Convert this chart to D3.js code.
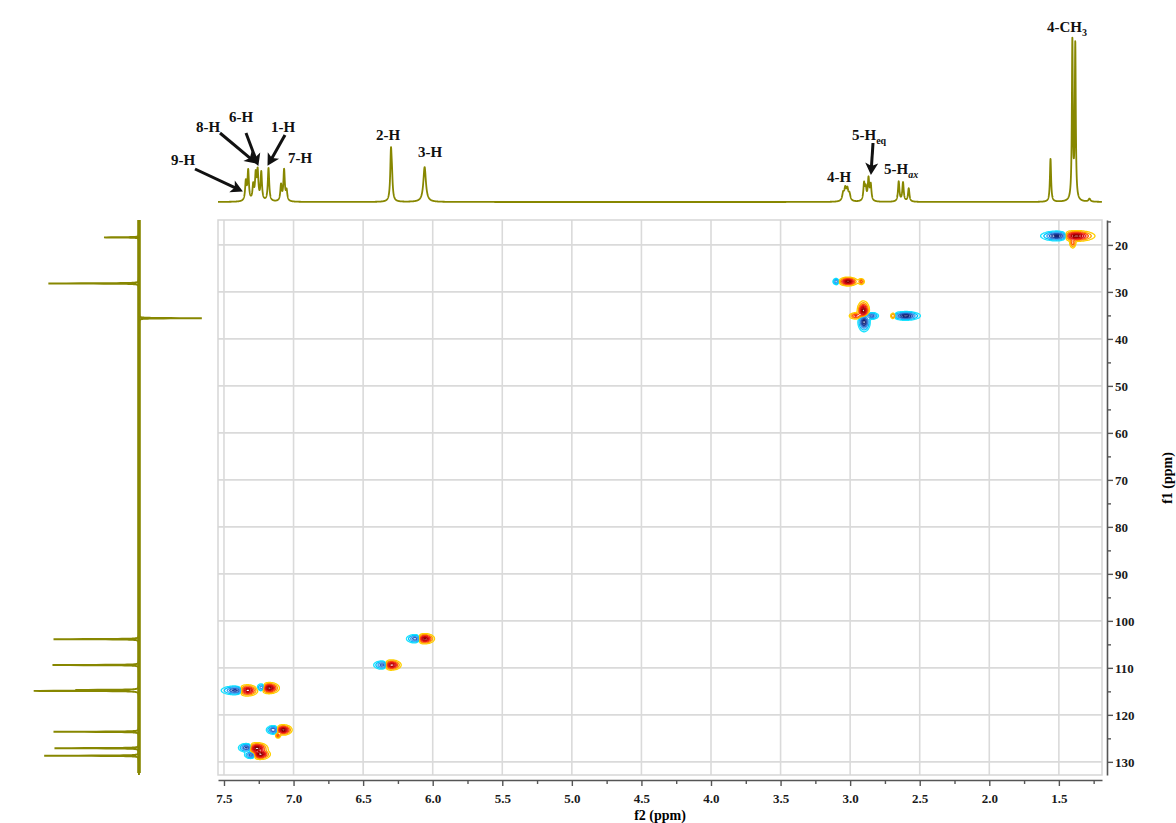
<!DOCTYPE html>
<html><head><meta charset="utf-8">
<script src="https://cdn.jsdelivr.net/npm/d3@7"></script>
<style>
body{margin:0;background:#fff;}
svg{display:block;font-family:"Liberation Serif","Times New Roman",serif;}
</style></head><body>
<svg id="chart" width="1176" height="823"></svg>
<script>
// ================= DATA =================
const f2Ticks = [7.5,7.0,6.5,6.0,5.5,5.0,4.5,4.0,3.5,3.0,2.5,2.0,1.5];
const f2MinorTicks = [7.25,6.75,6.25,5.75,5.25,4.75,4.25,3.75,3.25,2.75,2.25,1.75,1.25];
const f1Ticks = [20,30,40,50,60,70,80,90,100,110,120,130];
const f1MinorTicks = [15,25,35,45,55,65,75,85,95,105,115,125];

// 1H projection (top): peak positions (ppm), relative heights (4-CH3 ~ 100), half-widths (ppm)
const hPeakPpm    = [7.343,7.326,7.290,7.272,7.258,7.232,7.180,7.090,7.068,7.050,6.300,6.293,6.058,3.050,3.035,3.020,3.005,2.900,2.888,2.868,2.852,2.651,2.620,2.579,1.560,1.403,1.382,1.280];
const hPeakHeight = [11.4,18.0,9.0,15.0,17.0,17.0,20.0,9.6,18.7,6.0,28.3,10.8,21.0,4.5,7.0,6.5,4.0,10.2,7.2,13.3,9.6,12.0,11.4,8.0,25.9,96.0,93.5,1.8];
const hPeakWidth  = [0.006,0.006,0.006,0.006,0.006,0.006,0.006,0.006,0.006,0.006,0.006,0.006,0.011,0.008,0.008,0.008,0.008,0.006,0.006,0.006,0.006,0.006,0.006,0.006,0.005,0.0042,0.0042,0.008];

// 13C projection (left): positions (ppm) and relative intensities (negative = CH2, points right)
const cPeakPpm    = [18.4,28.2,35.6,103.9,109.4,114.9,114.7,123.6,127.1,128.7];
const cPeakHeight = [0.34,0.88,-0.61,0.83,0.84,1.00,0.58,0.83,0.82,0.92];

// HSQC cross peaks, as lobes: f2 (ppm), f1 (ppm), signed amplitude, widths (ppm)
const lobeF2  = [1.509,1.380,1.400, 3.015,3.100,2.920, 2.905,2.900,2.960,2.845, 2.600,2.690, 6.060,6.120, 6.300,6.355, 7.335,7.414, 7.175,7.225, 7.074,7.145,7.112, 7.265,7.335, 7.240,7.302];
const lobeF1  = [18.1,18.1,19.6, 27.8,27.8,27.8, 34.0,36.4,35.1,35.1, 35.1,35.1, 103.8,103.8, 109.4,109.4, 114.8,114.8, 114.3,114.2, 123.2,123.2,124.4, 127.1,127.0, 128.4,128.5];
const lobeAmp = [-1,1,0.35, 1,-0.45,0.35, 1,-1,0.45,-0.6, -1,0.4, 1,-0.7, 1,-0.7, 1,-0.8, 1,-0.6, 1,-0.7,0.35, 1,-0.8, 1,-0.7];
const lobeW2  = [0.050,0.057,0.011, 0.029,0.011,0.011, 0.018,0.018,0.022,0.022, 0.043,0.011, 0.030,0.030, 0.030,0.030, 0.033,0.045, 0.030,0.018, 0.026,0.022,0.009, 0.033,0.026, 0.030,0.022];
const lobeW1  = [0.43,0.47,0.53, 0.38,0.32,0.32, 0.85,0.85,0.32,0.32, 0.38,0.32, 0.45,0.40, 0.45,0.40, 0.49,0.40, 0.49,0.40, 0.45,0.40,0.28, 0.49,0.40, 0.45,0.36];

// ================= LAYOUT =================
const svg = d3.select('#chart');
const P = {left:218, right:1102, top:220, bottom:775};
const x = d3.scaleLinear().domain([7.543, 1.19]).range([P.left, P.right]);
const y = d3.scaleLinear().domain([14.7, 132.8]).range([P.top, P.bottom]);
const yTop = d3.scaleLinear().domain([0, 100]).range([202, 36]);
const xLeft = d3.scaleLinear().domain([0, 1]).range([139, 36]);
const olive = '#878700';

svg.append('rect').attr('width',1176).attr('height',823).attr('fill','#fff');

svg.append('clipPath').attr('id','plotclip').append('rect')
  .attr('x',P.left).attr('y',P.top).attr('width',P.right-P.left).attr('height',P.bottom-P.top);

// grid
const grid = svg.append('g');
grid.selectAll('.vg').data(f2Ticks).join('line')
  .attr('x1',d=>x(d)).attr('x2',d=>x(d)).attr('y1',P.top).attr('y2',P.bottom)
  .attr('stroke','#dadada').attr('stroke-width',1.6);
grid.selectAll('.hg').data(f1Ticks).join('line')
  .attr('x1',P.left).attr('x2',P.right).attr('y1',d=>y(d)).attr('y2',d=>y(d))
  .attr('stroke','#dadada').attr('stroke-width',1.6);
svg.append('rect').attr('x',P.left).attr('y',P.top).attr('width',P.right-P.left).attr('height',P.bottom-P.top)
  .attr('fill','none').attr('stroke','#d6d6d6').attr('stroke-width',1.5);

// ================= 2D contours =================
const gw = P.right - P.left, gh = P.bottom - P.top;
const field = new Float64Array(gw*gh);
lobeF2.forEach((f2,k)=>{
  const cx = x(f2) - P.left, cy = y(lobeF1[k]) - P.top;
  const sx = Math.abs(x(f2 + lobeW2[k]) - x(f2));
  const sy = Math.abs(y(lobeF1[k] + lobeW1[k]) - y(lobeF1[k]));
  const i0 = Math.max(0, Math.floor(cx-4*sx)), i1 = Math.min(gw-1, Math.ceil(cx+4*sx));
  const j0 = Math.max(0, Math.floor(cy-4*sy)), j1 = Math.min(gh-1, Math.ceil(cy+4*sy));
  for (let j=j0;j<=j1;j++) for (let i=i0;i<=i1;i++) {
    const dx=(i+0.5-cx)/sx, dy=(j+0.5-cy)/sy;
    field[j*gw+i] += lobeAmp[k]*Math.exp(-0.5*(dx*dx+dy*dy));
  }
});
const negField = field.map(v=>-v);
const posT = [0.05,0.14,0.27,0.42,0.57,0.73,0.88];
const posC = ['#ffd000','#ffa200','#ff5a00','#ee2222','#d81010','#bb0000','#8e0000'];
const negT = [0.05,0.14,0.3,0.48,0.68,0.86];
const negC = ['#19e3ff','#00c4ff','#3a9cf0','#2a66c8','#1d3f9c','#152575'];
const cg = svg.append('g').attr('clip-path','url(#plotclip)')
  .append('g').attr('transform',`translate(${P.left},${P.top})`);
const gp = d3.geoPath();
cg.selectAll('.neg').data(d3.contours().size([gw,gh]).thresholds(negT)(negField)).join('path')
  .attr('d',gp).attr('fill','none').attr('stroke',(d,i)=>negC[i]).attr('stroke-width',1.3);
cg.selectAll('.pos').data(d3.contours().size([gw,gh]).thresholds(posT)(field)).join('path')
  .attr('d',gp).attr('fill','none').attr('stroke',(d,i)=>posC[i]).attr('stroke-width',1.3);

// ================= Top 1H projection =================
const hPts = d3.range(7.543, 1.19, -0.0007).map(p=>{
  let v=0;
  hPeakPpm.forEach((c,k)=>{ const w=hPeakWidth[k]; v += hPeakHeight[k]*w*w/((p-c)*(p-c)+w*w); });
  return [p,v];
});
svg.append('path').datum(hPts)
  .attr('d',d3.line().x(d=>x(d[0])).y(d=>yTop(d[1])))
  .attr('fill','none').attr('stroke',olive).attr('stroke-width',1.8).attr('stroke-linejoin','round');

// ================= Left 13C projection =================
svg.append('line').attr('x1',xLeft(0)).attr('x2',xLeft(0)).attr('y1',P.top).attr('y2',P.bottom-2)
  .attr('stroke',olive).attr('stroke-width',3.6);
const cPts = d3.range(14.7, 132.8, 0.01).map(p=>{
  let v=0;
  cPeakPpm.forEach((c,k)=>{ const w=0.04; v += cPeakHeight[k]*w*w/((p-c)*(p-c)+w*w); });
  return [p,v];
});
svg.append('path').datum(cPts)
  .attr('d',d3.line().x(d=>xLeft(d[1])).y(d=>y(d[0])))
  .attr('fill','none').attr('stroke',olive).attr('stroke-width',1.9);

// ================= Axes =================
const axColor = '#555';
const xAxis = svg.append('g').attr('transform','translate(0,780)')
  .call(d3.axisBottom(x).tickValues(f2Ticks).tickFormat(d3.format('.1f')).tickSize(6).tickSizeOuter(0));
svg.append('g').attr('transform','translate(0,780)')
  .call(d3.axisBottom(x).tickValues(f2MinorTicks).tickFormat('').tickSize(4).tickSizeOuter(0))
  .call(g=>g.select('.domain').remove());
const yAxis = svg.append('g').attr('transform','translate(1107,0)')
  .call(d3.axisRight(y).tickValues(f1Ticks).tickSize(6).tickSizeOuter(0));
svg.append('g').attr('transform','translate(1107,0)')
  .call(d3.axisRight(y).tickValues(f1MinorTicks).tickFormat('').tickSize(4).tickSizeOuter(0))
  .call(g=>g.select('.domain').remove());
svg.selectAll('.domain').attr('stroke',axColor).attr('stroke-width',1.6);
svg.selectAll('.tick line').attr('stroke',axColor).attr('stroke-width',1.4);
svg.selectAll('.tick text').attr('fill','#1a1a1a')
  .style('font-family','"Liberation Serif",serif').style('font-weight','bold').style('font-size','13px');
xAxis.selectAll('.tick text').attr('y',14);
yAxis.selectAll('.tick text').attr('x',8);

svg.append('text').attr('x',660).attr('y',820).attr('text-anchor','middle')
  .style('font-weight','bold').style('font-size','14px').text('f2 (ppm)');
svg.append('text').attr('transform','translate(1172,478) rotate(-90)').attr('text-anchor','middle')
  .style('font-weight','bold').style('font-size','14px').text('f1 (ppm)');

// ================= Annotations =================
const ann = svg.append('g').style('font-weight','bold').style('font-size','15px').attr('fill','#111');
const simpleLabels = [
  ['9-H',183,165],['8-H',208,132],['6-H',241,122],['1-H',283,132],['7-H',300,163],
  ['2-H',388,140],['3-H',430,157],['4-H',839,182]
];
simpleLabels.forEach(([t,lx,ly])=>ann.append('text').attr('x',lx).attr('y',ly).attr('text-anchor','middle').text(t));
function subLabel(main, sub, lx, ly, italic){
  const t = ann.append('text').attr('x',lx).attr('y',ly);
  t.append('tspan').text(main);
  t.append('tspan').attr('dy',4).style('font-size','10px').style('font-style',italic?'italic':'normal').text(sub);
}
subLabel('5-H','eq',852,140,false);
subLabel('5-H','ax',884,174,true);
subLabel('4-CH','3',1047,32,false);

svg.append('defs').append('marker').attr('id','ah').attr('markerUnits','userSpaceOnUse')
  .attr('viewBox','-12 -7 14 14').attr('refX',0).attr('refY',0).attr('markerWidth',14).attr('markerHeight',14)
  .attr('orient','auto')
  .append('path').attr('d','M1,0 L-11,-6.5 L-8,0 L-11,6.5 Z').attr('fill','#111');
const arrows = [[195,169,242,191],[220,133,256,163],[246,133,258,165],[285,135,268,165],[873,143,871,174]];
arrows.forEach(([ax1,ay1,ax2,ay2])=>{
  const L = Math.hypot(ax2-ax1, ay2-ay1), s=(L-5)/L;
  svg.append('line').attr('x1',ax1).attr('y1',ay1).attr('x2',ax1+(ax2-ax1)*s).attr('y2',ay1+(ay2-ay1)*s)
    .attr('stroke','#111').attr('stroke-width',3);
  svg.append('line').attr('x1',ax1+(ax2-ax1)*s).attr('y1',ay1+(ay2-ay1)*s).attr('x2',ax2).attr('y2',ay2)
    .attr('stroke','none').attr('marker-end','url(#ah)');
});
</script>
</body></html>
